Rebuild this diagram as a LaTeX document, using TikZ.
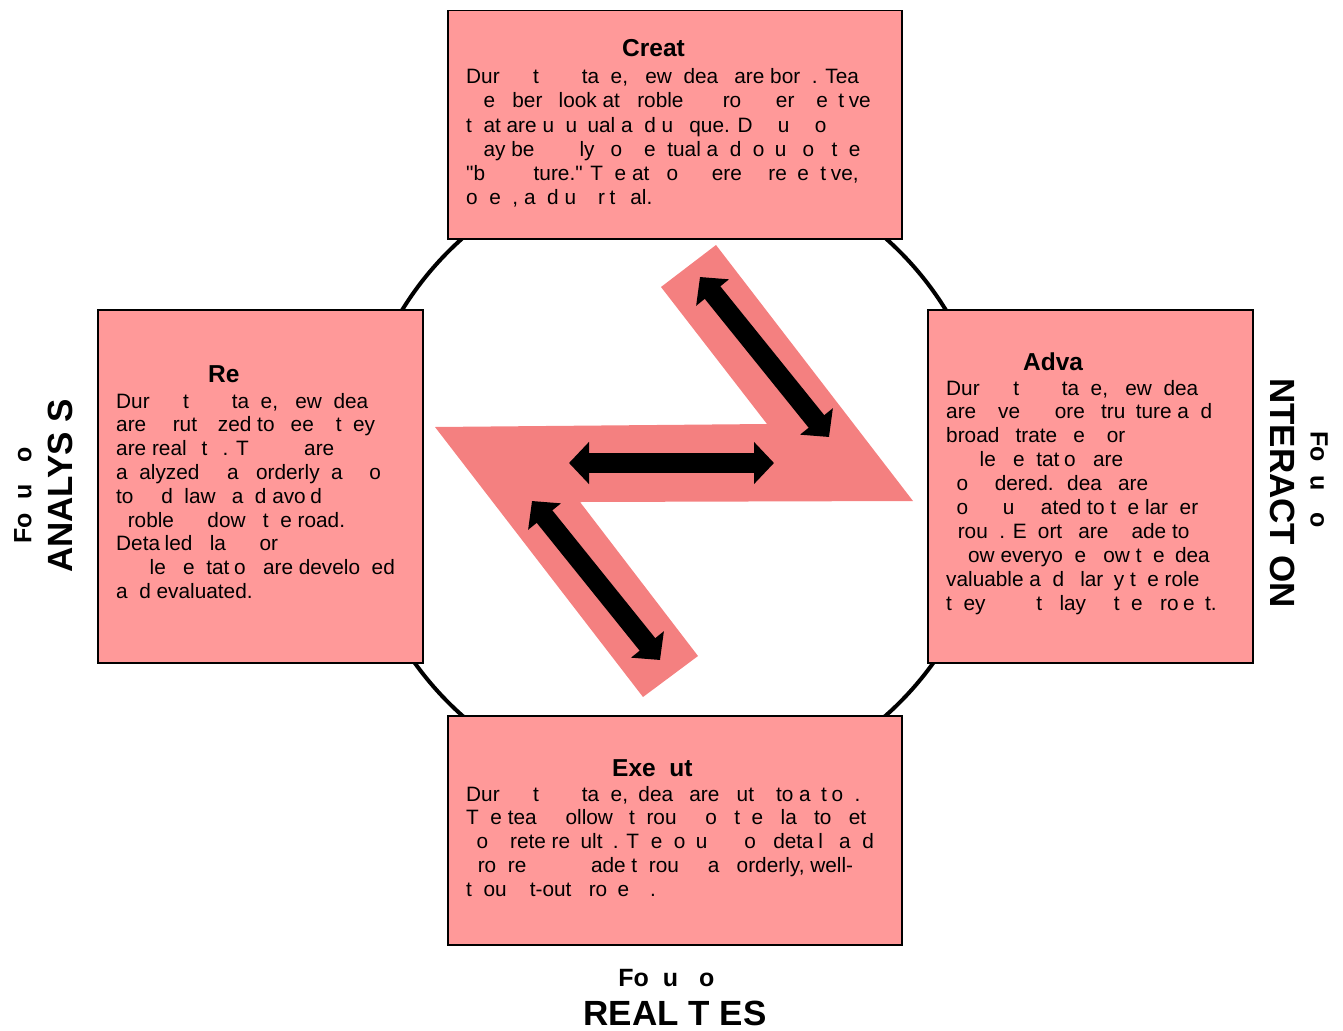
\documentclass[tikz,border=0pt]{standalone}
\usepackage{fontspec}
\setmainfont{Liberation Sans}
\usepackage{tikz}
\usetikzlibrary{positioning,calc,arrows.meta}
\definecolor{boxpink}{RGB}{255,153,153}
\definecolor{zpink}{RGB}{244,128,128}
\newcommand{\gap}[1]{\phantom{#1}}
\tikzset{
  stage/.style    = {draw=black, fill=boxpink, line width=1.5pt, inner sep=0pt, anchor=north west},
  stagehdr/.style = {font=\fontsize{24.5}{28}\selectfont\bfseries, anchor=base west, inner sep=0pt},
  body/.style     = {font=\fontsize{20.8}{24}\selectfont, anchor=base west, inner sep=0pt},
  focus/.style    = {font=\fontsize{25}{30}\selectfont\bfseries, inner sep=0pt},
  theme/.style    = {font=\fontsize{35}{40}\selectfont\bfseries, inner sep=0pt},
  twoway/.style   = {{Triangle[length=20pt,width=41pt]}-{Triangle[length=20pt,width=41pt]}, line width=20pt},
}

\begin{document}
\begin{tikzpicture}[x=1pt,y=-1pt]
  \useasboundingbox (0,0) rectangle (1343,1030);

  % ring behind the four stages
  \draw[line width=4pt] (674,477) circle (319);

  % the four stages
  \node[stage, minimum width=454pt, minimum height=228pt] (creat) at (447,10) {};
  \node[stage, minimum width=325pt, minimum height=353pt] (refine) at (97,309) {};
  \node[stage, minimum width=325pt, minimum height=353pt] (adva) at (927,309) {};
  \node[stage, minimum width=454pt, minimum height=229pt] (exec) at (447,715) {};

  \node[stagehdr] (creat-t) at (622,57) {Creat};
  \foreach \t [count=\i from 0] in {%
    {Dur\gap{ing} t\gap{his s}ta\gap{g}e, \gap{n}ew \gap{I}dea\gap{s} are bor\gap{n}. Tea},
    {\gap{m}e\gap{m}ber\gap{s} look at \gap{p}roble\gap{ms f}ro\gap{m p}er\gap{sp}e\gap{c}t\gap{i}ve},
    {t\gap{h}at are u\gap{n}u\gap{s}ual a\gap{n}d u\gap{ni}que. D\gap{isc}u\gap{ssi}o},
    {\gap{m}ay be \gap{high}ly \gap{c}o\gap{nc}e\gap{p}tual a\gap{n}d \gap{f}o\gap{c}u\gap{s} o\gap{n} t\gap{h}e},
    {\textquotedbl b\gap{ig pic}ture.\textquotedbl{} T\gap{h}e at\gap{m}o\gap{sph}ere \gap{is} re\gap{c}e\gap{p}t\gap{i}ve,},
    {o\gap{p}e\gap{n}, a\gap{n}d u\gap{nc}r\gap{i}t\gap{ic}al.}}
  {
    \node[body] (creat-\i) at (466,{84+24*\i}) {\t};
  }

  \node[stagehdr] (refine-t) at (208,382) {Re};
  \foreach \t [count=\i from 0] in {%
    {Dur\gap{ing} t\gap{his s}ta\gap{g}e, \gap{n}ew \gap{I}dea\gap{s}},
    {are \gap{sc}rut\gap{ini}zed to \gap{s}ee \gap{if} t\gap{h}ey},
    {are real\gap{is}t\gap{ic}. T\gap{hings} are},
    {a\gap{n}alyzed \gap{in} a\gap{n} orderly \gap{f}a\gap{shi}o},
    {to \gap{fin}d \gap{f}law\gap{s} a\gap{n}d avo\gap{i}d},
    {\gap{p}roble\gap{ms} dow\gap{n} t\gap{h}e road.},
    {Deta\gap{i}led \gap{p}la\gap{ns f}or},
    {\gap{imp}le\gap{m}e\gap{n}tat\gap{i}o\gap{n} are develo\gap{p}ed},
    {a\gap{n}d evaluated.}}
  {
    \node[body] (refine-\i) at (116,{408+23.8*\i}) {\t};
  }

  \node[stagehdr] (adva-t) at (1023,370) {Adva};
  \foreach \t [count=\i from 0] in {%
    {Dur\gap{ing} t\gap{his s}ta\gap{g}e, \gap{n}ew \gap{I}dea\gap{s}},
    {are \gap{gi}ve\gap{n m}ore \gap{s}tru\gap{c}ture a\gap{n}d},
    {broad \gap{s}trate\gap{gi}e\gap{s f}or},
    {\gap{imp}le\gap{m}e\gap{n}tat\gap{i}o\gap{n} are},
    {\gap{c}o\gap{nsi}dered. \gap{I}dea\gap{s} are},
    {\gap{c}o\gap{mm}u\gap{nic}ated to t\gap{h}e lar\gap{g}er},
    {\gap{g}rou\gap{p}. E\gap{ff}ort\gap{s} are \gap{m}ade to},
    {\gap{sh}ow everyo\gap{n}e \gap{h}ow t\gap{h}e \gap{i}dea},
    {valuable a\gap{n}d \gap{c}lar\gap{if}y t\gap{h}e role},
    {t\gap{h}ey \gap{mig}\gap{h}t \gap{p}lay \gap{in} t\gap{h}e \gap{p}ro\gap{j}e\gap{c}t.}}
  {
    \node[body] (adva-\i) at (946,{395+23.9*\i}) {\t};
  }

  \node[stagehdr] (exec-t) at (612,776) {Exe\gap{c}ut};
  \foreach \t [count=\i from 0] in {%
    {Dur\gap{ing} t\gap{his s}ta\gap{g}e, \gap{i}dea\gap{s} are \gap{p}ut \gap{in}to a\gap{c}t\gap{i}o\gap{n}.},
    {T\gap{h}e tea\gap{m f}ollow\gap{s} t\gap{h}rou\gap{gh} o\gap{n} t\gap{h}e \gap{p}la\gap{n} to \gap{g}et},
    {\gap{c}o\gap{nc}rete re\gap{s}ult\gap{s}. T\gap{h}e \gap{f}o\gap{c}u\gap{s is} o\gap{n} deta\gap{i}l\gap{s} a\gap{n}d},
    {\gap{p}ro\gap{g}re\gap{ss is m}ade t\gap{h}rou\gap{gh} a\gap{n} orderly, well-},
    {t\gap{h}ou\gap{gh}t-out \gap{p}ro\gap{c}e\gap{ss}.}}
  {
    \node[body] (exec-\i) at (466,{801+23.75*\i}) {\t};
  }

  % the Z band with its three two-way arrows
  \fill[zpink] (435,427) -- (767,424) -- (661,287) -- (716,245) -- (913,501)
    -- (580,502) -- (698,656) -- (643,697) -- cycle;
  \coordinate (up-a) at (700,277);
  \coordinate (up-b) at (829,437);
  \coordinate (mid-a) at (569,463);
  \coordinate (mid-b) at (774,463);
  \coordinate (low-a) at (532,501);
  \coordinate (low-b) at (660,660);
  \draw[twoway] (up-a) -- (up-b);
  \draw[twoway] (mid-a) -- (mid-b);
  \draw[twoway] (low-a) -- (low-b);

  % focus labels round the outside
  \node[focus, rotate=90] (focus-w) at (23,488) {Fo\gap{c}u\gap{s} o\gap{n}};
  \node[theme, rotate=90] (analysis) at (60,486) {ANALYS\gap{I}S};
  \node[focus, rotate=-90] (focus-e) at (1319,487) {Fo\gap{c}u\gap{s} o\gap{n}};
  \node[theme, rotate=-90] (interaction) at (1283,488) {\gap{I}NTERACT\gap{I}ON};
  \node[focus] (focus-s) at (674,978) {Fo\gap{c}u\gap{s} o\gap{n}};
  \node[theme] (realities) at (675,1013) {REAL\gap{I}T\gap{I}ES};
\end{tikzpicture}
\end{document}
